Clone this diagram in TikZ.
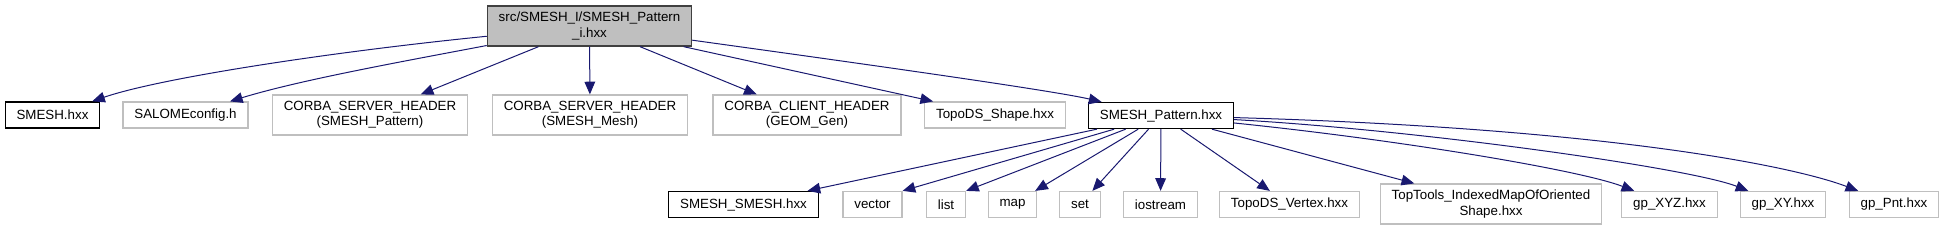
\documentclass[tikz,border=0pt]{standalone}
\usepackage{fontspec}
\setmainfont{Liberation Sans}
\usetikzlibrary{arrows.meta}
\definecolor{edgeblue}{HTML}{191970}
\definecolor{boxgray}{HTML}{BFBFBF}
\definecolor{rootgray}{HTML}{404040}
\begin{document}
\begin{tikzpicture}[
x=0.75pt,y=-0.75pt,
incl/.style={rectangle,font=\fontsize{10pt}{11.5pt}\selectfont,align=center,
  inner xsep=8.5pt,inner ysep=0pt,minimum height=19.5pt},
mainfile/.style={incl,fill=boxgray,draw=rootgray,line width=1pt,minimum height=30pt},
doc/.style={incl,draw=black,line width=1pt},
ext/.style={incl,draw=boxgray,line width=0.9pt},
tall/.style={minimum height=30pt},
dep/.style={draw=edgeblue,line width=0.75pt,-{Triangle[length=9.5pt,width=8pt]}}
]
\useasboundingbox (0,0) rectangle (1943,231);

% top file
\node[mainfile] (root) at (589.5,26) {src/SMESH\_I/SMESH\_Pattern\\\_i.hxx};

% direct includes
\node[doc] (smesh) at (52.5,115) {SMESH.hxx};
\node[ext] (salome) at (185.5,115) {SALOMEconfig.h};
\node[ext,tall] (cshpat) at (370,115) {CORBA\_SERVER\_HEADER\\(SMESH\_Pattern)};
\node[ext,tall] (cshmesh) at (590,115) {CORBA\_SERVER\_HEADER\\(SMESH\_Mesh)};
\node[ext,tall] (cchgeom) at (807,115) {CORBA\_CLIENT\_HEADER\\(GEOM\_Gen)};
\node[ext] (topods) at (995,115) {TopoDS\_Shape.hxx};
\node[doc] (spat) at (1161,115.5) {SMESH\_Pattern.hxx};

% includes of SMESH_Pattern.hxx
\node[doc] (ssmesh) at (743.5,204.5) {SMESH\_SMESH.hxx};
\node[ext] (vector) at (872.5,204.5) {vector};
\node[ext] (list) at (946,204.5) {list};
\node[ext] (map) at (1012.5,204.5) {map};
\node[ext] (set) at (1080,204.5) {set};
\node[ext] (iostream) at (1160.5,204.5) {iostream};
\node[ext] (vertex) at (1289.5,204.5) {TopoDS\_Vertex.hxx};
\node[ext,tall] (toptools) at (1491,204) {TopTools\_IndexedMapOfOriented\\Shape.hxx};
\node[ext] (gpxyz) at (1669.5,204.5) {gp\_XYZ.hxx};
\node[ext] (gpxy) at (1783,204.5) {gp\_XY.hxx};
\node[ext] (gppnt) at (1894,204.5) {gp\_Pnt.hxx};

\draw[dep] (root) .. controls (330,52) and (160,78) .. (smesh);
\draw[dep] (root) .. controls (400,62) and (300,80) .. (salome);
\draw[dep] (root) -- (cshpat);
\draw[dep] (root) -- (cshmesh);
\draw[dep] (root) -- (cchgeom);
\draw[dep] (root) -- (topods);
\draw[dep] (root) .. controls (850,62) and (1050,90) .. (spat);

\draw[dep] (spat) -- (ssmesh);
\draw[dep] (spat) -- (vector.north east);
\draw[dep] (spat) -- (list.north east);
\draw[dep] (spat) -- (map);
\draw[dep] (spat) -- (set);
\draw[dep] (spat) -- (iostream);
\draw[dep] (spat) -- (vertex);
\draw[dep] (spat) -- (toptools);
\draw[dep] (spat) .. controls (1400,140) and (1580,170) .. (gpxyz);
\draw[dep] (spat) .. controls (1420,130) and (1690,168) .. (gpxy);
\draw[dep] (spat) .. controls (1600,128) and (1790,165) .. (gppnt);

\end{tikzpicture}
\end{document}
